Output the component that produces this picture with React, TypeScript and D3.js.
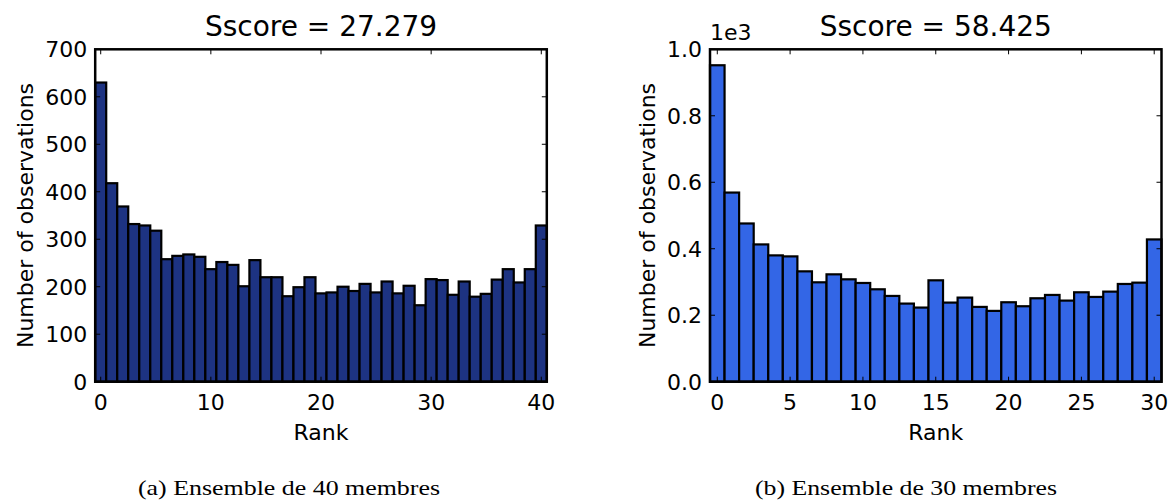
import React from 'react';
import * as d3 from 'd3';

// Rank histogram, ensemble of 40 members (ranks 0..40)
const ranks40: number[] = d3.range(0, 41);
const counts40: number[] = [
  630, 418, 369, 332, 329, 318, 258, 265, 268, 263,
  237, 252, 246, 201, 256, 220, 220, 180, 199, 220,
  186, 188, 200, 191, 206, 188, 211, 186, 202, 161,
  216, 214, 183, 211, 179, 185, 215, 237, 209, 237,
  329,
];
const xTicks40: number[] = [0, 10, 20, 30, 40];
const yTicks40: number[] = [0, 100, 200, 300, 400, 500, 600, 700];
const yTickLabels40: string[] = ['0', '100', '200', '300', '400', '500', '600', '700'];

// Rank histogram, ensemble of 30 members (ranks 0..30)
const ranks30: number[] = d3.range(0, 31);
const counts30: number[] = [
  952, 569, 476, 413, 380, 377, 332, 299, 323, 308,
  297, 278, 258, 235, 223, 305, 238, 253, 225, 213,
  239, 227, 251, 261, 244, 269, 255, 271, 294, 298,
  428,
];
const xTicks30: number[] = [0, 5, 10, 15, 20, 25, 30];
const yTicks30: number[] = [0, 200, 400, 600, 800, 1000];
const yTickLabels30: string[] = ['0.0', '0.2', '0.4', '0.6', '0.8', '1.0'];

const titles: string[] = ['Sscore = 27.279', 'Sscore = 58.425'];
const captions: string[] = ['(a) Ensemble de 40 membres', '(b) Ensemble de 30 membres'];

const FONT = 'DejaVu Sans, sans-serif';

type PanelProps = {
  left: number;
  right: number;
  ranks: number[];
  counts: number[];
  yMax: number;
  xTicks: number[];
  yTicks: number[];
  yTickLabels: string[];
  title: string;
  offsetText?: string;
  fill: string;
  ylabelX: number;
  caption: string;
  captionX: number;
};

const TOP = 49.3;
const BOTTOM = 381.7;

function Panel(p: PanelProps) {
  const n = p.ranks.length;
  const x = d3.scaleLinear().domain([-0.5, n - 0.5]).range([p.left, p.right]);
  const y = d3.scaleLinear().domain([0, p.yMax]).range([BOTTOM, TOP]);
  const cx = (p.left + p.right) / 2;
  const fs = 22;
  const tl = 5;
  return (
    <g>
      {p.ranks.map((r, i) => (
        <rect
          key={r}
          x={x(r - 0.5)}
          y={y(p.counts[i])}
          width={x(r + 0.5) - x(r - 0.5)}
          height={y(0) - y(p.counts[i])}
          fill={p.fill}
          stroke="#000"
          strokeWidth={2.2}
        />
      ))}
      {p.xTicks.map((t) => (
        <g key={'xt' + t}>
          <line x1={x(t)} x2={x(t)} y1={BOTTOM} y2={BOTTOM - tl} stroke="#000" strokeWidth={1} />
          <line x1={x(t)} x2={x(t)} y1={TOP} y2={TOP + tl} stroke="#000" strokeWidth={1} />
          <text x={x(t)} y={410} textAnchor="middle" fontFamily={FONT} fontSize={fs} fill="#000">
            {t}
          </text>
        </g>
      ))}
      {p.yTicks.map((t, i) => (
        <g key={'yt' + t}>
          <line x1={p.left} x2={p.left + tl} y1={y(t)} y2={y(t)} stroke="#000" strokeWidth={1} />
          <line x1={p.right} x2={p.right - tl} y1={y(t)} y2={y(t)} stroke="#000" strokeWidth={1} />
          <text
            x={p.left - 8}
            y={y(t) + 0.365 * fs}
            textAnchor="end"
            fontFamily={FONT}
            fontSize={fs}
            fill="#000"
          >
            {p.yTickLabels[i]}
          </text>
        </g>
      ))}
      <rect
        x={p.left}
        y={TOP}
        width={p.right - p.left}
        height={BOTTOM - TOP}
        fill="none"
        stroke="#000"
        strokeWidth={2.5}
      />
      <text x={cx} y={36} textAnchor="middle" fontFamily={FONT} fontSize={28} fill="#000">
        {p.title}
      </text>
      {p.offsetText ? (
        <text x={p.left} y={40} textAnchor="start" fontFamily={FONT} fontSize={fs} fill="#000">
          {p.offsetText}
        </text>
      ) : null}
      <text x={cx} y={440} textAnchor="middle" fontFamily={FONT} fontSize={fs} fill="#000">
        Rank
      </text>
      <text
        transform={`translate(${p.ylabelX},${(TOP + BOTTOM) / 2}) rotate(-90)`}
        textAnchor="middle"
        fontFamily={FONT}
        fontSize={fs}
        fill="#000"
      >
        Number of observations
      </text>
      <text
        x={p.captionX}
        y={494.5}
        fontFamily="Liberation Serif, serif"
        fontSize={21}
        textLength={302}
        lengthAdjust="spacingAndGlyphs"
        fill="#000"
      >
        {p.caption}
      </text>
    </g>
  );
}

export default function App() {
  return (
    <svg
      width={1172}
      height={500}
      viewBox="0 0 1172 500"
      style={{ position: 'absolute', left: 0, top: 0, background: '#fff' }}
    >
      <rect x={0} y={0} width={1172} height={500} fill="#fff" />
      <Panel
        left={95.2}
        right={546.8}
        ranks={ranks40}
        counts={counts40}
        yMax={700}
        xTicks={xTicks40}
        yTicks={yTicks40}
        yTickLabels={yTickLabels40}
        title={titles[0]}
        fill="#1d3382"
        ylabelX={33}
        caption={captions[0]}
        captionX={138}
      />
      <Panel
        left={710}
        right={1161.5}
        ranks={ranks30}
        counts={counts30}
        yMax={1000}
        xTicks={xTicks30}
        yTicks={yTicks30}
        yTickLabels={yTickLabels30}
        title={titles[1]}
        offsetText="1e3"
        fill="#3366e6"
        ylabelX={655}
        caption={captions[1]}
        captionX={755}
      />
    </svg>
  );
}
